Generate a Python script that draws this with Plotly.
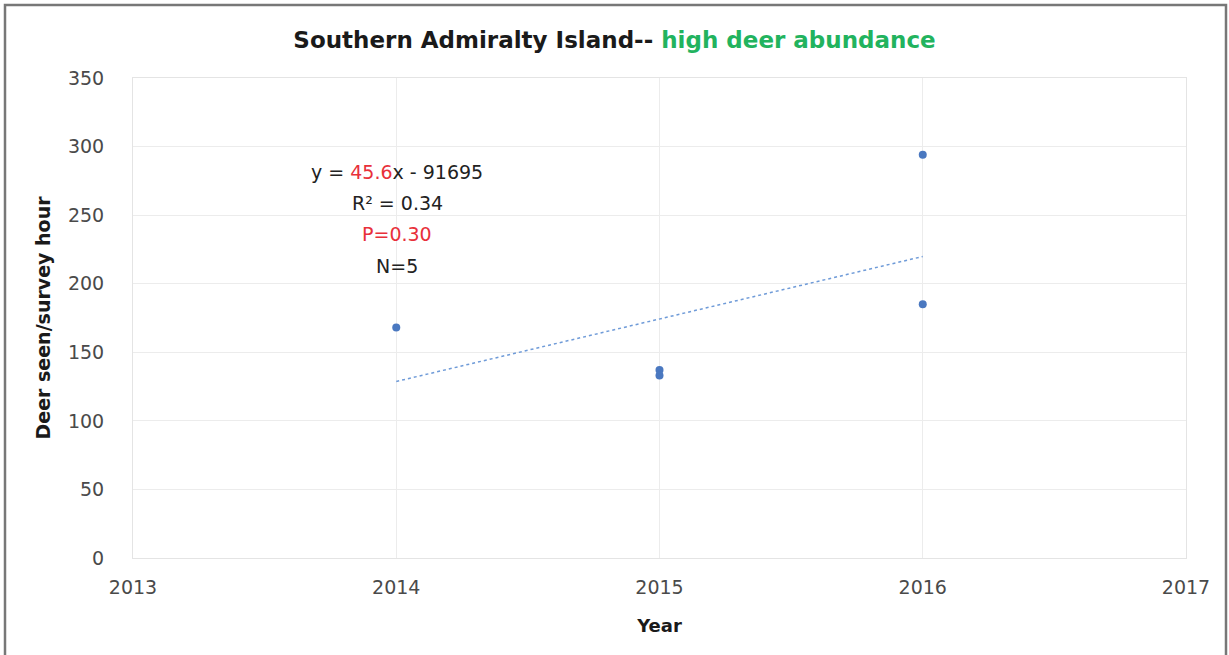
import numpy as np
import plotly.graph_objects as go

years = [2014, 2015, 2015, 2016, 2016]
deer_per_hour = [168, 137, 133, 294, 185]
x_ticks = [2013, 2014, 2015, 2016, 2017]
y_ticks = [0, 50, 100, 150, 200, 250, 300, 350]

W, H = 1229, 655
ml, mr, mt, mb = 133, 43, 78, 97
pw, ph = W - ml - mr, H - mt - mb

coef = np.polyfit(years, deer_per_hour, 1)
tx = [min(years), max(years)]
ty = [coef[0] * v + coef[1] for v in tx]

fig = go.Figure()
fig.add_trace(go.Scatter(x=tx, y=ty, mode="lines",
                         line=dict(color="#6f9bd8", width=1.5, dash="dot"),
                         hoverinfo="skip", showlegend=False))
fig.add_trace(go.Scatter(x=years, y=deer_per_hour, mode="markers",
                         marker=dict(color="#4a78c0", size=8),
                         showlegend=False))

font = "DejaVu Sans, sans-serif"
fig.update_layout(
    width=W, height=H,
    margin=dict(l=ml, r=mr, t=mt, b=mb),
    paper_bgcolor="white", plot_bgcolor="white",
    font=dict(family=font, color="#4a4a4a", size=19),
    title=dict(
        text="<b>Southern Admiralty Island-- <span style='color:#22b35e'>high deer abundance</span></b>",
        x=0.5, xanchor="center", y=1 - 40 / H, yanchor="middle",
        font=dict(family=font, size=23, color="#1a1a1a"),
    ),
    xaxis=dict(range=[2013, 2017], tickvals=x_ticks, ticktext=[str(v) for v in x_ticks],
               showgrid=True, gridcolor="#ececec", zeroline=False,
               showline=True, linecolor="#e4e4e4", mirror=True,
               ticks="", ticklabelstandoff=12,
               title=dict(text="<b>Year</b>", font=dict(size=18, color="#1a1a1a"), standoff=22)),
    yaxis=dict(range=[0, 350], tickvals=y_ticks,
               showgrid=True, gridcolor="#ececec", zeroline=False,
               showline=True, linecolor="#e4e4e4", mirror=True,
               ticks="", ticklabelstandoff=24,
               title=dict(text="<b>Deer seen/survey hour</b>", font=dict(size=19, color="#1a1a1a"), standoff=12)),
)

ann_lines = [
    "y = <span style='color:#e8303a'>45.6</span>x - 91695",
    "R² = 0.34",
    "<span style='color:#e8303a'>P=0.30</span>",
    "N=5",
]
ann_y = [172, 203, 234, 266]
for t, yp in zip(ann_lines, ann_y):
    fig.add_annotation(text=t, xref="paper", yref="paper",
                       x=(397 - ml) / pw, y=(H - mb - yp) / ph,
                       xanchor="center", yanchor="middle", showarrow=False,
                       font=dict(family=font, size=19, color="#222222"))

# outer frame of the chart image
fig.add_shape(type="rect", xref="paper", yref="paper",
              x0=(5 - ml) / pw, x1=(1226 - ml) / pw,
              y0=(H - mb - 700) / ph, y1=(H - mb - 5) / ph,
              line=dict(color="#777777", width=2.5), fillcolor="rgba(0,0,0,0)", layer="above")

fig.write_html("out.html", config={"displayModeBar": False},
               post_script="document.body.style.margin='0';document.body.style.overflow='hidden';")
